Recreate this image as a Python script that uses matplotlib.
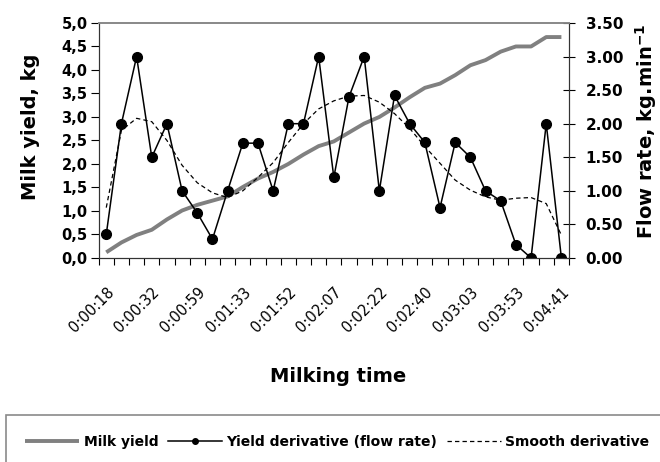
import matplotlib
matplotlib.use("Agg")
import matplotlib.pyplot as plt
from matplotlib.patches import Rectangle
import numpy as np

# values (31 sampling points)
milk_yield = [0.12, 0.33, 0.49, 0.60, 0.82, 1.01, 1.13, 1.22, 1.31, 1.51,
              1.69, 1.83, 2.00, 2.20, 2.38, 2.48, 2.67, 2.86, 3.00, 3.20,
              3.42, 3.62, 3.71, 3.89, 4.10, 4.21, 4.39, 4.50, 4.50, 4.70, 4.70]
flow_rate = [0.35, 2.00, 3.00, 1.50, 2.00, 1.00, 0.67, 0.28, 1.00, 1.71,
             1.71, 1.00, 2.00, 2.00, 3.00, 1.20, 2.40, 3.00, 1.00, 2.42,
             2.00, 1.72, 0.75, 1.72, 1.50, 1.00, 0.85, 0.20, 0.00, 2.00, 0.00]
smooth_rate = [0.75, 1.90, 2.08, 2.03, 1.75, 1.38, 1.12, 0.97, 0.90, 1.00,
               1.20, 1.42, 1.72, 2.00, 2.22, 2.34, 2.41, 2.42, 2.32, 2.15,
               1.93, 1.66, 1.41, 1.16, 1.01, 0.91, 0.86, 0.89, 0.90, 0.81, 0.34]
time_labels = ['0:00:18', '0:00:32', '0:00:59', '0:01:33', '0:01:52', '0:02:07',
               '0:02:22', '0:02:40', '0:03:03', '0:03:53', '0:04:41']
left_ticks = [0, 0.5, 1, 1.5, 2, 2.5, 3, 3.5, 4, 4.5, 5]
right_ticks = [0, 0.5, 1, 1.5, 2, 2.5, 3, 3.5]

x = np.arange(len(milk_yield))

fig = plt.figure(figsize=(6.6, 4.62), dpi=100)
ax = fig.add_axes([0.1495, 0.4416, 0.7126, 0.5087])
ax2 = ax.twinx()

l1, = ax.plot(x, milk_yield, color='#808080', lw=2.8, solid_capstyle='butt',
              label='Milk yield')
l3, = ax2.plot(x, smooth_rate, color='black', lw=0.9, ls=(0, (3.5, 2.5)),
               label='Smooth derivative')
l2, = ax2.plot(x, flow_rate, color='black', lw=1.1, marker='o', ms=7,
               label='Yield derivative (flow rate)')

ax.set_xlim(-0.5, len(x) - 0.5)
ax.set_ylim(0, 5)
ax2.set_ylim(0, 3.5)

# left axis
ax.set_yticks(left_ticks)
ax.set_yticklabels([f'{v:.1f}'.replace('.', ',') for v in left_ticks],
                   fontsize=10.5, fontweight='bold')
ax.tick_params(axis='y', direction='out', length=6, width=0.8, pad=2)

# right axis
ax2.set_yticks(right_ticks)
ax2.set_yticklabels([f'{v:.2f}' for v in right_ticks],
                    fontsize=11, fontweight='bold')
ax2.tick_params(axis='y', direction='inout', length=8, width=0.8, pad=8)

# category axis: marks between categories, labels on every third one
idx = x[::3]
ax.set_xticks(idx)
ax.set_xticklabels(time_labels, rotation=45, ha='right', va='top',
                   rotation_mode='anchor', fontsize=10.5)
ax.set_xticks(np.arange(-0.5, len(x)), minor=True)
ax.tick_params(axis='x', which='major', length=0, pad=19)
ax.tick_params(axis='x', which='minor', direction='out', length=5, width=0.8)

for s in ['left', 'bottom', 'right']:
    ax.spines[s].set_color('#333333')
    ax2.spines[s].set_color('#333333')
ax.spines['top'].set_color('#8a8a8a')
ax2.spines['top'].set_color('#8a8a8a')
ax.spines['top'].set_linewidth(1.3)
ax2.spines['top'].set_linewidth(1.3)

ax.set_ylabel('Milk yield, kg', fontsize=14, fontweight='bold', va='center')
ax.yaxis.set_label_coords(-0.144, 0.56)
ax2.set_ylabel('Flow rate, kg.min$^{\\mathbf{-1}}$', fontsize=14,
               fontweight='bold', va='center', rotation=90)
ax2.yaxis.set_label_coords(1.163, 0.538)
ax.set_xlabel('Milking time', fontsize=14, fontweight='bold', va='center')
ax.xaxis.set_label_coords(0.509, -0.506)

# legend box running off the bottom-right edge
fig.patches.append(Rectangle((6 / 660, -0.1), 1.0, 0.1 + 47 / 462,
                             transform=fig.transFigure, fill=False,
                             edgecolor='#8a8a8a', lw=1.2, clip_on=False))
leg_l2 = plt.Line2D([], [], color='black', lw=1.1, marker='o', ms=4)
fig.legend([l1, leg_l2, l3],
           ['Milk yield', 'Yield derivative (flow rate)', 'Smooth derivative'],
           loc='center', bbox_to_anchor=(0.511, 1 - 442 / 462), ncol=3,
           frameon=False, prop={'weight': 'bold', 'size': 10},
           handlelength=3.9, handletextpad=0.3, columnspacing=0.7)

plt.savefig('out.png', dpi=100)
